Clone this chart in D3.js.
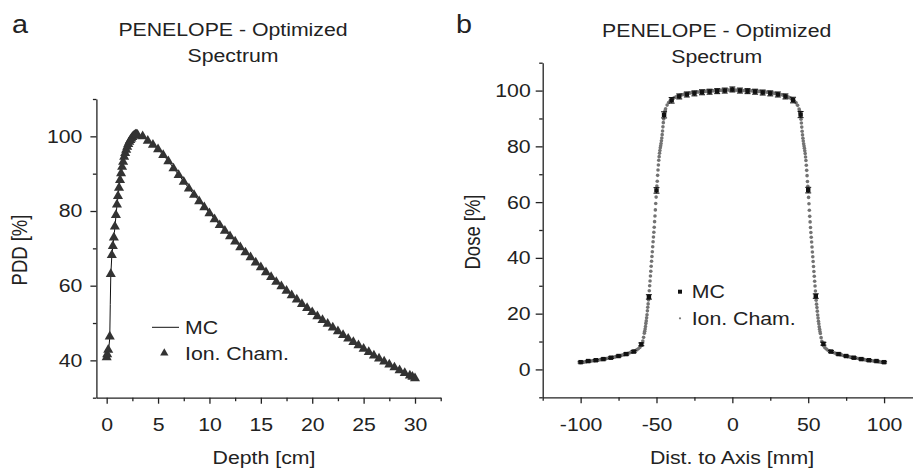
<!DOCTYPE html>
<html>
<head>
<meta charset="utf-8">
<script src="https://cdn.jsdelivr.net/npm/d3@7"></script>
<style>
  body { margin: 0; background: #fff; }
</style>
</head>
<body>
<svg id="chart" width="913" height="470"></svg>
<script>
// ---- panel a: depth dose ----
const chamberDepth = [0, 0.05, 0.15, 0.3, 0.4, 0.5, 0.6, 0.7, 0.8, 0.9,
  1.0, 1.1, 1.2, 1.3, 1.4, 1.5, 1.6, 1.7, 1.8, 1.9,
  2.0, 2.1, 2.2, 2.3, 2.4, 2.5, 2.6, 2.7, 2.8, 2.9, 3.0,
  3.5, 4.0, 4.5, 5.0, 5.5, 6.0, 6.5, 7.0, 7.5, 8.0, 8.5, 9.0, 9.5, 10.0,
  10.5, 11.0, 11.5, 12.0, 12.5, 13.0, 13.5, 14.0, 14.5, 15.0, 15.5, 16.0, 16.5, 17.0,
  17.5, 18.0, 18.5, 19.0, 19.5, 20.0, 20.5, 21.0, 21.5, 22.0, 22.5, 23.0, 23.5, 24.0,
  24.5, 25.0, 25.5, 26.0, 26.5, 27.0, 27.5, 28.0, 28.5, 29.0, 29.5, 29.75, 30.0];
const chamberPdd = [40.8, 41.6, 42.8, 46.4, 63.1, 68.2, 70.6, 72.9, 75.8, 78.9,
  81.7, 84.0, 86.2, 88.3, 90.1, 91.8, 93.2, 94.5, 95.5, 96.4,
  97.2, 97.9, 98.5, 99.0, 99.4, 99.8, 100.1, 100.3, 100.5, 100.5, 100.4,
  100.0, 98.8, 97.7, 96.5, 95.0, 93.3, 91.4, 89.6, 87.8, 86.0, 84.3, 82.6, 81.0, 79.4,
  77.8, 76.2, 74.7, 73.2, 71.8, 70.3, 68.9, 67.6, 66.2, 64.9, 63.6, 62.3, 61.0, 59.8,
  58.6, 57.4, 56.3, 55.1, 54.0, 52.9, 51.8, 50.8, 49.8, 48.8, 47.8, 46.8, 45.8, 44.9,
  44.0, 43.1, 42.2, 41.3, 40.5, 39.7, 38.9, 38.1, 37.3, 36.6, 35.9, 35.6, 35.2];

const mcDepth = [0, 0.1, 0.2, 0.3, 0.35, 0.4, 0.5, 0.75, 1.0, 1.25, 1.5, 1.75, 2.0, 2.5, 3.0, 3.5,
  4, 5, 6, 7, 8, 9, 10, 11, 12, 13, 14, 15, 16, 17, 18, 19, 20, 21, 22, 23, 24, 25, 26, 27, 28, 29, 30];
const mcPdd = [40.5, 41.5, 43.0, 46.0, 55.0, 62.8, 68.0, 74.2, 81.5, 87.2, 91.6, 95.0, 97.1, 99.6, 100.3, 100.0,
  98.9, 96.6, 93.4, 89.7, 86.1, 82.7, 79.5, 76.3, 73.3, 70.4, 67.7, 65.0, 62.4, 59.9, 57.5, 55.2,
  53.0, 50.9, 48.9, 46.9, 45.0, 43.2, 41.4, 39.8, 38.2, 36.7, 35.3];

const depthMajor = [0, 5, 10, 15, 20, 25, 30];
const depthMinor = [2.5, 7.5, 12.5, 17.5, 22.5, 27.5, 32.5];
const pddMajor = [40, 60, 80, 100];
const pddMinor = [30, 50, 70, 90, 110];

// ---- panel b: lateral profile ----
const ionPos = [
  // left tail
  -100, -99, -98, -97, -96, -95, -94, -93, -92, -91,
  -90, -89, -88, -87, -86, -85, -84, -83, -82, -81,
  -80, -79, -78, -77, -76, -75, -74, -73, -72, -71,
  -70, -69, -68, -67, -66, -65, -64, -63, -62, -61,
  -60, -59, -58.5,
  // left penumbra
  -58, -57.75, -57.5, -57.25, -57, -56.75, -56.5, -56.25,
  -56, -55.75, -55.5, -55.25, -55, -54.75, -54.5, -54.25,
  -54, -53.75, -53.5, -53.25, -53, -52.75, -52.5, -52.25,
  -52, -51.75, -51.5, -51.25, -51, -50.75, -50.5, -50.25,
  -50, -49.75, -49.5, -49.25, -49, -48.75, -48.5, -48.25,
  -48, -47.75, -47.5, -47.25, -47, -46.75, -46.5, -46.25,
  -46, -45.75, -45.5, -45.25, -45, -44.75, -44.5, -44.25,
  // plateau
  -44, -43, -42, -41, -40, -39, -38, -37, -36, -35,
  -34, -33, -32, -31, -30, -29, -28, -27, -26, -25,
  -24, -23, -22, -21, -20, -19, -18, -17, -16, -15,
  -14, -13, -12, -11, -10, -9, -8, -7, -6, -5,
  -4, -3, -2, -1, 0, 1, 2, 3, 4, 5,
  6, 7, 8, 9, 10, 11, 12, 13, 14, 15,
  16, 17, 18, 19, 20, 21, 22, 23, 24, 25,
  26, 27, 28, 29, 30, 31, 32, 33, 34, 35,
  36, 37, 38, 39, 40, 41, 42, 43, 44,
  // right penumbra
  44.25, 44.5, 44.75, 45, 45.25, 45.5, 45.75, 46,
  46.25, 46.5, 46.75, 47, 47.25, 47.5, 47.75, 48,
  48.25, 48.5, 48.75, 49, 49.25, 49.5, 49.75, 50,
  50.25, 50.5, 50.75, 51, 51.25, 51.5, 51.75, 52,
  52.25, 52.5, 52.75, 53, 53.25, 53.5, 53.75, 54,
  54.25, 54.5, 54.75, 55, 55.25, 55.5, 55.75, 56,
  56.25, 56.5, 56.75, 57, 57.25, 57.5, 57.75, 58,
  // right tail
  58.5, 59, 60,
  61, 62, 63, 64, 65, 66, 67, 68, 69, 70,
  71, 72, 73, 74, 75, 76, 77, 78, 79, 80,
  81, 82, 83, 84, 85, 86, 87, 88, 89, 90,
  91, 92, 93, 94, 95, 96, 97, 98, 99, 100];
const ionDose = [
  2.5, 2.6, 2.6, 2.7, 2.8, 2.9, 2.9, 3.0, 3.1, 3.1,
  3.2, 3.3, 3.4, 3.5, 3.6, 3.7, 3.8, 3.9, 4.0, 4.1,
  4.2, 4.3, 4.4, 4.5, 4.7, 4.8, 4.9, 5.1, 5.2, 5.4,
  5.5, 5.7, 5.9, 6.1, 6.3, 6.5, 6.7, 7.0, 7.4, 7.9,
  8.6, 10.2, 11.5,
  13.0, 13.7, 14.5, 15.4, 16.5, 17.4, 18.5, 19.6,
  21.0, 22.3, 23.5, 24.9, 26.3, 28.2, 30.0, 31.7,
  33.5, 35.2, 37.0, 38.8, 40.5, 42.2, 44.0, 45.8,
  47.5, 49.2, 51.0, 53.0, 55.0, 57.2, 59.5, 61.8,
  64.0, 65.8, 67.5, 69.6, 71.5, 73.3, 75.0, 76.3,
  77.5, 78.5, 79.5, 80.2, 81.0, 82.0, 83.0, 84.2,
  85.5, 87.0, 88.5, 89.8, 91.0, 91.7, 92.3, 92.9,
  93.5, 94.8, 95.7, 96.3, 96.8, 97.2, 97.5, 97.8, 98.0, 98.2,
  98.4, 98.5, 98.7, 98.8, 98.9, 99.0, 99.1, 99.2, 99.3, 99.3,
  99.4, 99.5, 99.5, 99.6, 99.6, 99.7, 99.7, 99.8, 99.8, 99.8,
  99.9, 99.9, 99.9, 100.0, 100.0, 100.0, 100.1, 100.1, 100.1, 100.1,
  100.2, 100.2, 100.2, 100.2, 100.2, 100.2, 100.2, 100.1, 100.1, 100.1,
  100.1, 100.0, 100.0, 100.0, 100.0, 99.9, 99.9, 99.9, 99.8, 99.8,
  99.8, 99.7, 99.7, 99.6, 99.6, 99.5, 99.5, 99.4, 99.4, 99.3,
  99.2, 99.1, 99.0, 98.9, 98.8, 98.7, 98.6, 98.4, 98.3, 98.1,
  97.9, 97.7, 97.4, 97.1, 96.7, 96.2, 95.6, 94.7, 93.4,
  92.8, 92.2, 91.6, 90.9, 89.7, 88.4, 86.9, 85.4,
  84.1, 82.9, 81.9, 80.9, 80.1, 79.3, 78.4, 77.4,
  76.2, 74.9, 73.2, 71.4, 69.5, 67.4, 65.7, 63.9,
  61.7, 59.4, 57.1, 54.9, 52.9, 50.9, 49.1, 47.4,
  45.7, 43.9, 42.1, 40.4, 38.7, 36.9, 35.1, 33.4,
  31.6, 29.9, 28.1, 26.2, 24.8, 23.4, 22.2, 20.9,
  19.5, 18.4, 17.3, 16.4, 15.3, 14.4, 13.6, 12.9,
  11.4, 10.1, 8.5,
  7.8, 7.3, 6.9, 6.6, 6.4, 6.2, 6.0, 5.8, 5.6, 5.5,
  5.3, 5.2, 5.0, 4.9, 4.8, 4.6, 4.5, 4.4, 4.3, 4.2,
  4.1, 4.0, 3.9, 3.8, 3.7, 3.6, 3.5, 3.4, 3.3, 3.2,
  3.1, 3.1, 3.0, 2.9, 2.9, 2.8, 2.7, 2.6, 2.6, 2.5];

const mcPos = [-100, -95, -90, -85, -80, -75, -70, -65, -60, -55,
  -50, -45, -40, -35, -30, -25, -20, -15, -10, -5,
  0, 5, 10, 15, 20, 25, 30, 35, 40, 45,
  50, 55, 60, 65, 70, 75, 80, 85, 90, 95, 100];
const mcDose = [2.6, 3.0, 3.3, 3.7, 4.2, 4.8, 5.5, 6.4, 9.0, 26.0,
  64.2, 91.3, 96.5, 97.9, 98.6, 99.0, 99.4, 99.6, 99.8, 100.0,
  100.4, 100.0, 99.8, 99.6, 99.3, 99.0, 98.6, 97.9, 96.6, 91.4,
  64.3, 26.3, 9.2, 6.4, 5.5, 4.8, 4.2, 3.7, 3.3, 3.0, 2.6];
const mcErr = [0.3, 0.3, 0.3, 0.3, 0.3, 0.3, 0.4, 0.4, 0.5, 0.8,
  1.0, 1.1, 1.0, 0.9, 0.9, 0.9, 0.9, 0.9, 0.9, 0.9,
  0.9, 0.9, 0.9, 0.9, 0.9, 0.9, 0.9, 0.9, 1.0, 1.1,
  1.0, 0.8, 0.5, 0.4, 0.4, 0.3, 0.3, 0.3, 0.3, 0.3, 0.3];

const distMajor = [-100, -50, 0, 50, 100];
const distMinor = [-125, -75, -25, 25, 75, 125];
const doseMajor = [0, 20, 40, 60, 80, 100];
const doseMinor = [-10, 10, 30, 50, 70, 90, 110];

const titleLines = ["PENELOPE - Optimized", "Spectrum"];

const svg = d3.select("#chart");
const FONT = "'Liberation Sans', Arial, Helvetica, sans-serif";
const SX = 1.15; // the source figure is a bit wider than tall
const ink = "#222";

function txt(x, y, s, size, anchor, rotate) {
  const tr = rotate
    ? `translate(${x},${y}) rotate(-90) scale(1,${SX})`
    : `translate(${x},${y}) scale(${SX},1)`;
  svg.append("text")
    .attr("transform", tr)
    .attr("text-anchor", anchor || "start")
    .attr("font-family", FONT)
    .attr("font-size", size)
    .attr("fill", ink)
    .text(s);
}

function axis(g, gen, major, minor, size, pad) {
  // plain hyphen for negatives, as in the original figure
  g.call(gen.tickValues(major).tickSize(size).tickSizeOuter(0).tickPadding(pad)
    .tickFormat(d => String(d)));
  const m = g.append("g");
  g.select(".domain").attr("stroke", ink).attr("stroke-width", 1.3);
  g.selectAll(".tick line").attr("stroke", ink).attr("stroke-width", 1.3);
  g.selectAll(".tick text")
    .attr("font-family", FONT).attr("font-size", 18.5).attr("fill", ink)
    .each(function() {
      const t = d3.select(this);
      t.attr("x", (+t.attr("x") || 0) / SX).attr("transform", `scale(${SX},1)`);
    });
  m.call(gen.tickValues(minor).tickSize(3.5).tickFormat(""));
  m.select(".domain").remove();
  m.selectAll(".tick line").attr("stroke", ink).attr("stroke-width", 1.3);
}

// ---------- panel a ----------
const xL = d3.scaleLinear().domain([-1, 32.5]).range([96.4, 440.7]);
const yL = d3.scaleLinear().domain([30, 110]).range([397.7, 99]);

axis(svg.append("g").attr("transform", "translate(0,397.7)"),
  d3.axisBottom(xL), depthMajor, depthMinor, 6, 14);
axis(svg.append("g").attr("transform", "translate(96.4,0)"),
  d3.axisLeft(yL), pddMajor, pddMinor, 6, 8);

svg.append("path")
  .datum(mcDepth.map((d, i) => [d, mcPdd[i]]))
  .attr("fill", "none")
  .attr("stroke", "#111")
  .attr("stroke-width", 1)
  .attr("d", d3.line().x(d => xL(d[0])).y(d => yL(d[1])));

const tri = d3.symbol(d3.symbolTriangle, 44);
svg.append("g").selectAll("path")
  .data(chamberDepth.map((d, i) => [d, chamberPdd[i]]))
  .join("path")
  .attr("transform", d => `translate(${xL(d[0])},${yL(d[1])})`)
  .attr("d", tri)
  .attr("fill", "#333");

titleLines.forEach((s, i) => txt(233, 36 + i * 26, s, 18.5, "middle"));
txt(12, 33, "a", 25);
txt(264, 464, "Depth [cm]", 18.5, "middle");
txt(27, 250, "PDD [%]", 18.5, "middle", true);

// legend a
svg.append("line").attr("x1", 152).attr("x2", 179).attr("y1", 327.3).attr("y2", 327.3)
  .attr("stroke", "#111").attr("stroke-width", 1);
txt(185, 334, "MC", 18.5);
svg.append("path").attr("transform", "translate(164.3,353)")
  .attr("d", d3.symbol(d3.symbolTriangle, 30)).attr("fill", "#333");
txt(185, 360, "Ion. Cham.", 18.5);

// ---------- panel b ----------
const xR = d3.scaleLinear().domain([-125, 125]).range([542.7, 922]);
const yR = d3.scaleLinear().domain([-10, 110]).range([397.3, 62.7]);

axis(svg.append("g").attr("transform", "translate(0,397.3)"),
  d3.axisBottom(xR), distMajor, distMinor, 6, 15);
axis(svg.append("g").attr("transform", "translate(542.7,0)"),
  d3.axisLeft(yR), doseMajor, doseMinor, 7, 5);

svg.append("g").selectAll("circle")
  .data(ionPos.map((d, i) => [d, ionDose[i]]))
  .join("circle")
  .attr("cx", d => xR(d[0]))
  .attr("cy", d => yR(d[1]))
  .attr("r", 1.8)
  .attr("fill", "#737373");

const mc = svg.append("g").selectAll("g")
  .data(mcPos.map((d, i) => ({ x: d, y: mcDose[i], e: mcErr[i] })))
  .join("g")
  .attr("stroke", "#111")
  .attr("stroke-width", 1);
mc.append("line")
  .attr("x1", d => xR(d.x)).attr("x2", d => xR(d.x))
  .attr("y1", d => yR(d.y - d.e)).attr("y2", d => yR(d.y + d.e));
mc.append("line")
  .attr("x1", d => xR(d.x) - 3).attr("x2", d => xR(d.x) + 3)
  .attr("y1", d => yR(d.y - d.e)).attr("y2", d => yR(d.y - d.e));
mc.append("line")
  .attr("x1", d => xR(d.x) - 3).attr("x2", d => xR(d.x) + 3)
  .attr("y1", d => yR(d.y + d.e)).attr("y2", d => yR(d.y + d.e));
mc.append("rect")
  .attr("x", d => xR(d.x) - 2.2).attr("y", d => yR(d.y) - 2.2)
  .attr("width", 4.4).attr("height", 4.4)
  .attr("stroke", "none").attr("fill", "#111");

titleLines.forEach((s, i) => txt(716.7, 37 + i * 26, s, 18.5, "middle"));
txt(456, 33, "b", 25);
txt(732, 464, "Dist. to Axis [mm]", 18.5, "middle");
txt(480, 232, "Dose [%]", 18.5, "middle", true);

// legend b
svg.append("rect").attr("x", 678).attr("y", 289.7).attr("width", 4).attr("height", 4).attr("fill", "#111");
txt(691.7, 298, "MC", 18.5);
svg.append("circle").attr("cx", 680).attr("cy", 318.3).attr("r", 1.1).attr("fill", "#777");
txt(691.7, 324.5, "Ion. Cham.", 18.5);
</script>
</body>
</html>
